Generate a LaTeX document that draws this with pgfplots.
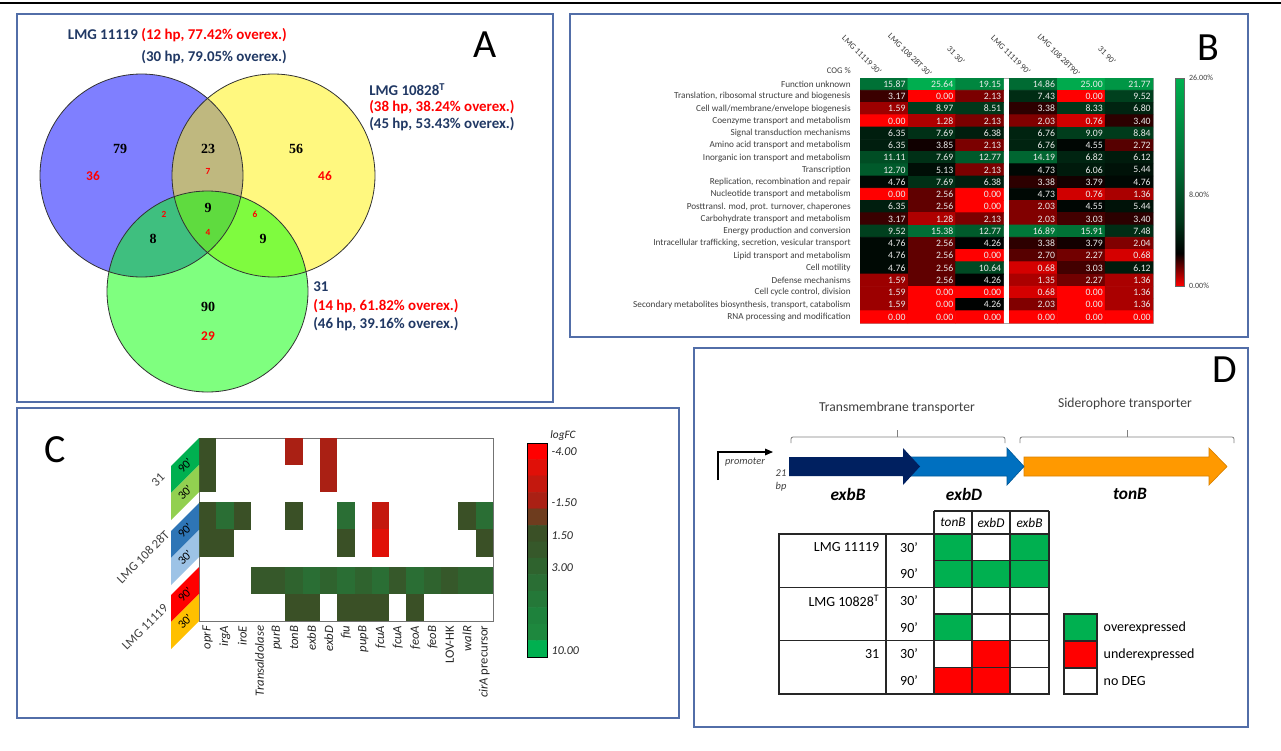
\documentclass[border=0pt]{standalone}
\usepackage{pgfplots}
\pgfplotsset{compat=1.18}
\usepackage{pgfplotstable}
\usepackage{fontspec}
\setmainfont{Carlito}
\newfontfamily\serifnum{Liberation Serif}
\usetikzlibrary{arrows.meta}

\definecolor{frameblue}{RGB}{82,110,168}
\definecolor{navy}{RGB}{32,56,100}
\definecolor{txtgray}{RGB}{64,64,64}
\definecolor{xgreen}{RGB}{0,176,80}
\definecolor{exbBcol}{RGB}{0,32,96}
\definecolor{exbDcol}{RGB}{0,112,192}
\definecolor{tonBcol}{RGB}{255,153,0}
\definecolor{g90}{RGB}{0,176,80}
\definecolor{g30}{RGB}{146,208,80}
\definecolor{b90}{RGB}{46,117,182}
\definecolor{b30}{RGB}{157,195,230}
\definecolor{r90}{RGB}{255,0,0}
\definecolor{r30}{RGB}{255,192,0}

\newcommand\fsz[1]{\fontsize{#1}{#1}\selectfont}

\pgfplotsset{
  colormap={cogmap}{rgb255(0cm)=(255,0,0); rgb255(4.1cm)=(0,0,0); rgb255(8cm)=(0,52,24); rgb255(15cm)=(0,108,52); rgb255(26cm)=(0,176,80)},
  colormap={fcmap}{rgb255(0cm)=(255,0,0); rgb255(0.8cm)=(224,16,8); rgb255(1.6cm)=(196,24,14); rgb255(2.5cm)=(170,32,20); rgb255(4cm)=(110,60,30); rgb255(5.5cm)=(58,80,38); rgb255(6.2cm)=(54,88,42); rgb255(7cm)=(47,99,46); rgb255(8.5cm)=(42,110,52); rgb255(10cm)=(36,120,56); rgb255(11.5cm)=(30,130,60); rgb255(13cm)=(30,136,62); rgb255(14cm)=(0,176,80)},
  colormap={degmap}{rgb255(0cm)=(255,0,0); rgb255(1cm)=(255,255,255); rgb255(2cm)=(0,176,80)},
}

\pgfdeclareplotmark{cellC}{%
  \pgfpathrectangle{\pgfpoint{-6.55pt}{-10.2pt}}{\pgfpoint{13.1pt}{20.4pt}}%
  \pgfusepathqfill}

% ---------- Panel B data (COG %) ----------
\pgfplotstableread{
x y v
0 0 15.87
1 0 25.64
2 0 19.15
0 1 3.17
1 1 0.00
2 1 2.13
0 2 1.59
1 2 8.97
2 2 8.51
0 3 0.00
1 3 1.28
2 3 2.13
0 4 6.35
1 4 7.69
2 4 6.38
0 5 6.35
1 5 3.85
2 5 2.13
0 6 11.11
1 6 7.69
2 6 12.77
0 7 12.70
1 7 5.13
2 7 2.13
0 8 4.76
1 8 7.69
2 8 6.38
0 9 0.00
1 9 2.56
2 9 0.00
0 10 6.35
1 10 2.56
2 10 0.00
0 11 3.17
1 11 1.28
2 11 2.13
0 12 9.52
1 12 15.38
2 12 12.77
0 13 4.76
1 13 2.56
2 13 4.26
0 14 4.76
1 14 2.56
2 14 0.00
0 15 4.76
1 15 2.56
2 15 10.64
0 16 1.59
1 16 2.56
2 16 4.26
0 17 1.59
1 17 0.00
2 17 0.00
0 18 1.59
1 18 0.00
2 18 4.26
0 19 0.00
1 19 0.00
2 19 0.00
}\cogL
\pgfplotstableread{
x y v
3.125 0 14.86
4.125 0 25.00
5.125 0 21.77
3.125 1 7.43
4.125 1 0.00
5.125 1 9.52
3.125 2 3.38
4.125 2 8.33
5.125 2 6.80
3.125 3 2.03
4.125 3 0.76
5.125 3 3.40
3.125 4 6.76
4.125 4 9.09
5.125 4 8.84
3.125 5 6.76
4.125 5 4.55
5.125 5 2.72
3.125 6 14.19
4.125 6 6.82
5.125 6 6.12
3.125 7 4.73
4.125 7 6.06
5.125 7 5.44
3.125 8 3.38
4.125 8 3.79
5.125 8 4.76
3.125 9 4.73
4.125 9 0.76
5.125 9 1.36
3.125 10 2.03
4.125 10 4.55
5.125 10 5.44
3.125 11 2.03
4.125 11 3.03
5.125 11 3.40
3.125 12 16.89
4.125 12 15.91
5.125 12 7.48
3.125 13 3.38
4.125 13 3.79
5.125 13 2.04
3.125 14 2.70
4.125 14 2.27
5.125 14 0.68
3.125 15 0.68
4.125 15 3.03
5.125 15 6.12
3.125 16 1.35
4.125 16 2.27
5.125 16 1.36
3.125 17 0.68
4.125 17 0.00
5.125 17 1.36
3.125 18 2.03
4.125 18 0.00
5.125 18 1.36
3.125 19 0.00
4.125 19 0.00
5.125 19 0.00
}\cogR

% ---------- Panel C data (logFC) ----------
\pgfplotstableread{
x y v
0 0 1.5
5 0 -1.5
7 0 -1.5
0 1 1.5
7 1 -1.5
0 2.39 1.5
1 2.39 4.5
2 2.39 1.5
5 2.39 1.5
8 2.39 4.5
10 2.39 -2.4
15 2.39 1.5
16 2.39 4.5
0 3.39 1.5
1 3.39 1.5
8 3.39 1.5
10 3.39 -3.2
16 3.39 1.5
3 4.78 2.2
4 4.78 2.2
5 4.78 3
6 4.78 4.5
7 4.78 3
8 4.78 4.5
9 4.78 3
10 4.78 4.5
11 4.78 2.2
12 4.78 4.5
13 4.78 3
14 4.78 2.2
15 4.78 3
16 4.78 3
5 5.78 1.5
6 5.78 1.5
8 5.78 1.5
9 5.78 1.5
10 5.78 1.5
12 5.78 1.5
}\fctab
\pgfplotstableread{
x y v
0 0 -4
1 0 -4
0 1 -3.2
1 1 -3.2
0 2 -2.4
1 2 -2.4
0 3 -1.5
1 3 -1.5
0 4 0
1 4 0
0 5 1.5
1 5 1.5
0 6 2.2
1 6 2.2
0 7 3
1 7 3
0 8 4.5
1 8 4.5
0 9 6
1 9 6
0 10 7.5
1 10 7.5
0 11 9
1 11 9
0 12 10
1 12 10
}\fcbar

% ---------- Panel D data (1 over, 0 none, -1 under) ----------
\pgfplotstableread{
x y v
0 0 1
1 0 0
2 0 1
0 1 1
1 1 1
2 1 1
0 2 0
1 2 0
2 2 0
0 3 1
1 3 0
2 3 0
0 4 0
1 4 -1
2 4 0
0 5 -1
1 5 -1
2 5 0
}\degtab

\begin{document}
\begin{tikzpicture}[x=0.75pt,y=0.75pt]
\useasboundingbox (0,0) rectangle (1281,-750);
\fill[white] (0,0) rectangle (1281,-750);
\draw[line width=1.5pt] (0,-3) -- (1281,-3);

% frames
\begin{scope}[draw=frameblue, line width=1.3pt]
\draw (17,-14) rectangle (553,-402);
\draw (570,-14) rectangle (1248,-337);
\draw (17,-408) rectangle (679,-718);
\draw (694,-348) rectangle (1248,-727);
\end{scope}

% ================= Panel A =================
\begin{scope}[fill opacity=0.5]
\fill[blue] (141.5,-175.5) circle[radius=101.5];
\fill[yellow] (273.5,-175.5) circle[radius=101.5];
\fill[green] (207.5,-291.5) circle[radius=100.5];
\end{scope}
\draw[black!80, line width=0.6pt] (141.5,-175.5) circle[radius=101.5];
\draw[black!80, line width=0.6pt] (273.5,-175.5) circle[radius=101.5];
\draw[black!80, line width=0.6pt] (207.5,-291.5) circle[radius=100.5];

\begin{axis}[at={(12.75pt,-10.5pt)}, anchor=north west, scale only axis, width=402pt, height=291pt,
  xmin=17, xmax=553, ymin=14, ymax=402, y dir=reverse, hide axis, clip=false]
\addplot[draw=none, point meta=explicit symbolic, nodes near coords,
  every node near coord/.append style={anchor=center, font=\serifnum\bfseries\fsz{10.5}, text=black}]
  table[x=x, y=y, meta=n] {
x y n
120 149 79
208 149 23
296 149 56
208 208 9
153 239 8
263 239 9
208 307 90
};
\addplot[draw=none, point meta=explicit symbolic, nodes near coords,
  every node near coord/.append style={anchor=center, font=\bfseries\fsz{10}, text=red}]
  table[x=x, y=y, meta=n] {
x y n
93 176 36
325 176 46
208 336 29
};
\addplot[draw=none, point meta=explicit symbolic, nodes near coords,
  every node near coord/.append style={anchor=center, font=\bfseries\fsz{7}, text=red}]
  table[x=x, y=y, meta=n] {
x y n
208 171 7
164 214 2
255 214 6
208 232 4
};
\end{axis}

\begin{scope}[font=\bfseries\fsz{11.2}]
\node[anchor=east, inner sep=0] at (287,-35) {\textcolor{navy}{LMG 11119 }\textcolor{red}{(12 hp, 77.42\% overex.)}};
\node[anchor=east, inner sep=0, text=navy] at (287,-57) {(30 hp, 79.05\% overex.)};
\node[anchor=west, inner sep=0, text=navy] at (369,-90) {LMG 10828\textsuperscript{T}};
\node[anchor=west, inner sep=0, text=red] at (369,-107) {(38 hp, 38.24\% overex.)};
\node[anchor=west, inner sep=0, text=navy] at (369,-124) {(45 hp, 53.43\% overex.)};
\node[anchor=west, inner sep=0, text=navy] at (313,-287) {31};
\node[anchor=west, inner sep=0, text=red] at (313,-306) {(14 hp, 61.82\% overex.)};
\node[anchor=west, inner sep=0, text=navy] at (313,-324) {(46 hp, 39.16\% overex.)};
\end{scope}
\node[font=\fsz{30}] at (485,-45) {A};

% ================= Panel B =================
\begin{axis}[
  at={(645pt,-58.5pt)}, anchor=north west, scale only axis,
  width=219.75pt, height=183.75pt,
  xmin=-0.5, xmax=5.625, ymin=-0.5, ymax=19.5, y dir=reverse,
  xtick=\empty, ytick={0,...,19},
  yticklabels={Function unknown,{Translation, ribosomal structure and biogenesis},Cell wall/membrane/envelope biogenesis,Coenzyme transport and metabolism,Signal transduction mechanisms,Amino acid transport and metabolism,Inorganic ion transport and metabolism,Transcription,{Replication, recombination and repair},Nucleotide transport and metabolism,{Posttransl. mod, prot. turnover, chaperones},Carbohydrate transport and metabolism,Energy production and conversion,{Intracellular trafficking, secretion, vesicular transport},Lipid transport and metabolism,Cell motility,Defense mechanisms,{Cell cycle control, division},{Secondary metabolites biosynthesis, transport, catabolism},RNA processing and modification},
  yticklabel style={font=\fsz{6.9}, text=txtgray, xshift=-3.5pt},
  tick style={draw=none},
  axis line style={black!35, line width=0.4pt},
  colormap name=cogmap, point meta min=0, point meta max=26,
  colorbar,
  colorbar style={at={(parent axis.north east)}, anchor=north west, xshift=8.25pt,
    width=6.75pt, height=156pt, ytick={0,11.4,26},
    yticklabels={0.00\%,8.00\%,26.00\%},
    yticklabel style={font=\fsz{6}, text=txtgray},
    axis line style={black!60}, tick style={draw=none}},
]
\addplot[matrix plot*, mesh/cols=3, point meta=explicit] table[x=x, y=y, meta=v] {\cogL};
\addplot[matrix plot*, mesh/cols=3, point meta=explicit] table[x=x, y=y, meta=v] {\cogR};
\addplot[draw=none, point meta=explicit,
  nodes near coords={\pgfmathprintnumber[fixed,fixed zerofill,precision=2,assume math mode=true]{\pgfplotspointmeta}},
  every node near coord/.append style={anchor=east, font=\fsz{7.3}, text=white!92!black, inner sep=0.5pt}]
  table[x expr=\thisrow{x}+0.47, y=y, meta=v] {\cogL};
\addplot[draw=none, point meta=explicit,
  nodes near coords={\pgfmathprintnumber[fixed,fixed zerofill,precision=2,assume math mode=true]{\pgfplotspointmeta}},
  every node near coord/.append style={anchor=east, font=\fsz{7.3}, text=white!92!black, inner sep=0.5pt}]
  table[x expr=\thisrow{x}+0.47, y=y, meta=v] {\cogR};
\end{axis}
\node[anchor=east, font=\fsz{6.5}, text=txtgray, inner sep=0] at (851,-71) {COG \%};
\foreach \xx/\lab in {862/{LMG 11119 30'}, 910/{LMG 108 28T 30'}, 956/{31 30'}, 1011/{LMG 11119 90'}, 1059/{LMG 108 28T90'}, 1107/{31 90'}}
  \node[rotate=-45, font=\fsz{6.3}, text=black!78] at (\xx,-55) {\lab};
\node[font=\fsz{30}] at (1208,-48) {B};

% ================= Panel C =================
\begin{axis}[
  at={(149.25pt,-328.5pt)}, anchor=north west, scale only axis,
  width=220.5pt, height=137.25pt,
  xmin=-0.5, xmax=16.5, ymin=-0.5, ymax=6.28, y dir=reverse,
  xtick={0,...,16}, ytick=\empty,
  xticklabels={\textit{oprF},\textit{irgA},\textit{iroE},\textit{Transaldolase},\textit{purB},\textit{tonB},\textit{exbB},\textit{exbD},\textit{fiu},\textit{pupB},\textit{fcuA},\textit{fcuA},\textit{feoA},\textit{feoB},LOV-HK,\textit{walR},\textit{cirA} precursor},
  xticklabel style={rotate=90, anchor=east, font=\fsz{9.5}, text=black!85},
  tick style={draw=none},
  axis line style={black!55, line width=0.5pt},
  colormap name=fcmap, point meta min=-4, point meta max=10,
]
\addplot[scatter, only marks, mark=cellC, point meta=explicit] table[x=x, y=y, meta=v] {\fctab};
\end{axis}

\begin{axis}[
  at={(395.25pt,-332.25pt)}, anchor=north west, scale only axis,
  width=15pt, height=160.5pt,
  xmin=-0.5, xmax=1.5, ymin=-0.5, ymax=12.5, y dir=reverse,
  xtick=\empty, ytick={0,3.15,5.1,7.05,12.1},
  yticklabels={-4.00,-1.50,1.50,3.00,10.00},
  yticklabel pos=right,
  yticklabel style={font=\fsz{9}\itshape, text=black!85},
  tick style={draw=none},
  axis line style={black, line width=0.7pt},
  axis on top,
  colormap name=fcmap, point meta min=-4, point meta max=10,
]
\addplot[matrix plot*, mesh/cols=2, point meta=explicit] table[x=x, y=y, meta=v] {\fcbar};
\end{axis}
\node[font=\fsz{8.5}\itshape, text=black!85] at (563,-436) {logFC};

% row tags
\foreach \t/\ca/\cb in {438/g90/g30, 503/b90/b30, 567/r90/r30}{
  \pgfmathsetmacro\m{\t+27}
  \pgfmathsetmacro\b{\t+54}
  \fill[\ca] (199,-\t) -- (199,-\m) -- (171,-\m-28) -- (171,-\t-28) -- cycle;
  \fill[\cb] (199,-\m) -- (199,-\b) -- (171,-\b-28) -- (171,-\m-28) -- cycle;
  \node[rotate=45, font=\fsz{9}] at (185,-\t-27.5) {90'};
  \node[rotate=45, font=\fsz{9}] at (185,-\m-27.5) {30'};
}
\node[rotate=45, font=\fsz{9.5}, text=txtgray] at (158,-480) {31};
\node[rotate=45, font=\fsz{9.5}, text=txtgray] at (143,-557) {LMG 108 28T};
\node[rotate=45, font=\fsz{9.5}, text=txtgray] at (145,-627) {LMG 11119};
\node[font=\fsz{30}] at (55,-450) {C};

% ================= Panel D =================
\node[font=\fsz{30}] at (1225,-370) {D};
\node[font=\fsz{10.2}, text=txtgray] at (897,-408) {Transmembrane transporter};
\node[font=\fsz{10.2}, text=txtgray] at (1125,-404) {Siderophore transporter};
\draw[black!50, line width=0.6pt, rounded corners=1.5pt] (791,-443) -- (791,-437) -- (1005,-437) -- (1005,-443);
\draw[black!50, line width=0.6pt] (897,-437) -- (897,-430);
\draw[black!50, line width=0.6pt, rounded corners=1.5pt] (1020,-443) -- (1020,-437) -- (1234,-437) -- (1234,-443);
\draw[black!50, line width=0.6pt] (1127,-437) -- (1127,-430);

\draw[line width=0.8pt, -{Triangle[length=6pt,width=5pt]}] (718,-480) -- (718,-452) -- (773,-452);
\node[font=\fsz{7.8}\itshape, text=txtgray] at (745,-462) {promoter};
\node[font=\fsz{7.8}\itshape, text=txtgray] at (781,-473) {21};
\node[font=\fsz{7.8}\itshape, text=txtgray] at (781,-487) {bp};

\filldraw[fill=tonBcol, draw=tonBcol!85!black, line width=0.5pt] (1024,-457) -- (1209,-457) -- (1209,-448) -- (1227,-466.5) -- (1209,-485) -- (1209,-476) -- (1024,-476) -- cycle;
\filldraw[fill=exbDcol, draw=exbDcol!80!black, line width=0.5pt] (903,-457) -- (1007,-457) -- (1007,-448) -- (1024,-466.5) -- (1007,-485) -- (1007,-476) -- (903,-476) -- cycle;
\fill[exbBcol] (789,-457) -- (903,-457) -- (903,-448) -- (920,-466.5) -- (903,-485) -- (903,-476) -- (789,-476) -- cycle;
\node[font=\bfseries\itshape\fsz{13}] at (848,-494) {exbB};
\node[font=\bfseries\itshape\fsz{13}] at (964,-494) {exbD};
\node[font=\bfseries\itshape\fsz{13}] at (1130,-494) {tonB};

\begin{axis}[at={(700.5pt,-400.5pt)}, anchor=north west, scale only axis, width=86.25pt, height=120pt,
  xmin=-0.5, xmax=2.5, ymin=-0.5, ymax=5.5, y dir=reverse, hide axis,
  colormap name=degmap, point meta min=-1, point meta max=1]
\addplot[matrix plot*, mesh/cols=3, point meta=explicit] table[x=x, y=y, meta=v] {\degtab};
\end{axis}

\begin{scope}[line width=0.9pt, draw=black!85]
\draw (779,-534) rectangle (1049,-694);
\draw (779,-587.3) -- (1049,-587.3);
\draw (779,-640.7) -- (1049,-640.7);
\draw (934,-560.7) -- (1049,-560.7);
\draw (934,-614) -- (1049,-614);
\draw (934,-667.3) -- (1049,-667.3);
\draw (886,-534) -- (886,-694);
\draw (934,-511) -- (934,-694);
\draw (972,-511) -- (972,-694);
\draw (1010,-511) -- (1010,-694);
\draw (1049,-511) -- (1049,-534);
\draw (934,-511) -- (1049,-511);
\end{scope}
\node[font=\itshape\fsz{10}] at (953,-522.5) {tonB};
\node[font=\itshape\fsz{10}] at (991,-522.5) {exbD};
\node[font=\itshape\fsz{10}] at (1029.5,-522.5) {exbB};
\node[anchor=east, font=\fsz{10.5}] at (884,-547.3) {LMG 11119};
\node[anchor=east, font=\fsz{10.5}] at (884,-600.7) {LMG 10828\textsuperscript{T}};
\node[anchor=east, font=\fsz{10.5}] at (884,-654) {31};
\foreach \yy/\tt in {547.3/30', 574/90', 600.7/30', 627.3/90', 654/30', 680.7/90'}
  \node[font=\fsz{10.5}] at (909,-\yy) {\tt};

\fill[xgreen] (1064,-614) rectangle (1097,-641);
\fill[red] (1064,-641) rectangle (1097,-668);
\draw[line width=0.9pt, black!85] (1064,-614) rectangle (1097,-694);
\draw[line width=0.9pt, black!85] (1064,-641) -- (1097,-641);
\draw[line width=0.9pt, black!85] (1064,-668) -- (1097,-668);
\node[anchor=west, font=\fsz{10.5}] at (1099,-627.5) {overexpressed};
\node[anchor=west, font=\fsz{10.5}] at (1099,-654.5) {underexpressed};
\node[anchor=west, font=\fsz{10.5}] at (1099,-681) {no DEG};
\end{tikzpicture}
\end{document}
